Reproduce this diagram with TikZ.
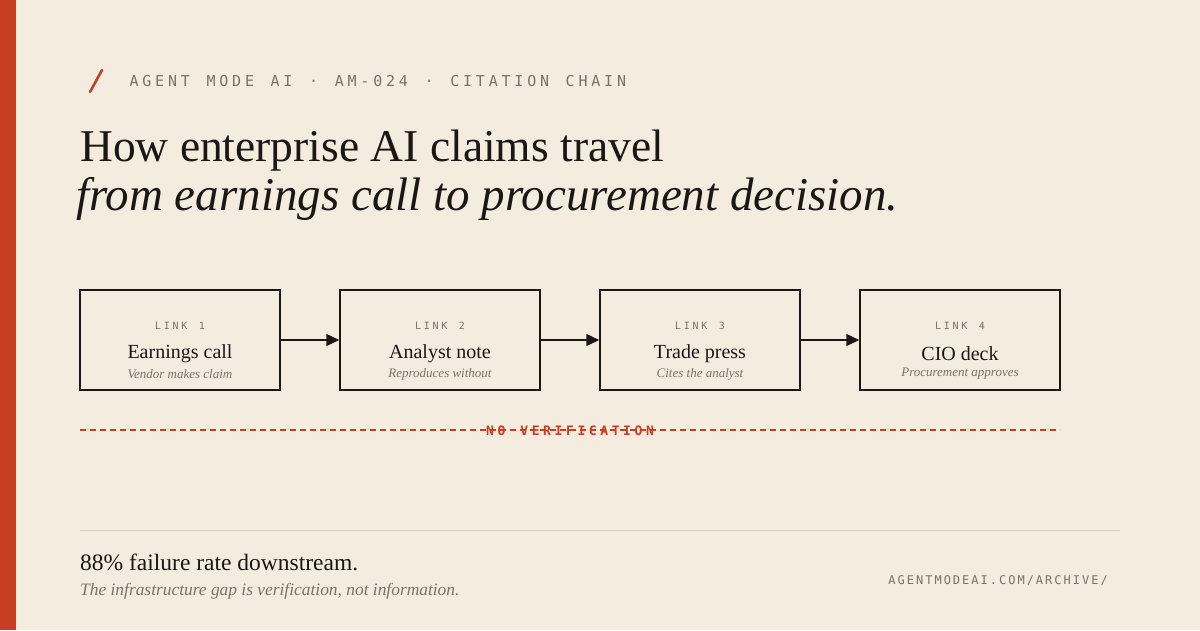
\documentclass[tikz,border=0pt]{standalone}
\usepackage{fontspec}
\setmainfont{Liberation Serif}
\newfontfamily\mono{DejaVu Sans Mono}
\usetikzlibrary{arrows.meta}
\newlength\lspamt
\newcommand\lsp{\kern\lspamt}
\definecolor{bg}{HTML}{F5ECE0}
\definecolor{rust}{HTML}{C83E22}
\definecolor{ink}{HTML}{1A1715}
\definecolor{gray1}{HTML}{7A716A}
\definecolor{rule}{HTML}{D9D0C5}
\begin{document}
\begin{tikzpicture}[x=1pt,y=-1pt,
  linkbox/.style={draw=ink,line width=1.5pt,minimum width=200pt,minimum height=100pt,inner sep=0pt},
  conn/.style={draw=ink,line width=1.5pt,-{Triangle[length=13pt,width=12pt]}},
  tag/.style={font=\mono\fontsize{10}{12}\selectfont\setlength\lspamt{2.7pt},text=gray1},
  ttl/.style={font=\fontsize{20}{22}\selectfont,text=ink},
  sub/.style={font=\itshape\fontsize{13}{15}\selectfont,text=gray1}]
\fill[bg] (0,0) rectangle (1200,630);
\useasboundingbox (0,0) rectangle (1200,630);
\fill[rust] (0,0) rectangle (16,630);
\draw[rust,line width=2.6pt,line cap=round] (90,92) -- (102,70);
\node[anchor=west,text=gray1,font=\mono\fontsize{15}{18}\selectfont\setlength\lspamt{3.8pt}] (hdr) at (126,81) {A\lsp G\lsp E\lsp N\lsp T\lsp\ \lsp M\lsp O\lsp D\lsp E\lsp\ \lsp A\lsp I\lsp\ \lsp ·\lsp\ \lsp A\lsp M\lsp -\lsp 0\lsp 2\lsp 4\lsp\ \lsp ·\lsp\ \lsp C\lsp I\lsp T\lsp A\lsp T\lsp I\lsp O\lsp N\lsp\ \lsp C\lsp H\lsp A\lsp I\lsp N};
\node[anchor=base west,inner sep=0pt,text=ink,font=\fontsize{45.5}{48}\selectfont] (t1) at (80,161) {How enterprise AI claims travel};
\node[anchor=base west,inner sep=0pt,text=ink,font=\itshape\fontsize{47}{50}\selectfont] (t2) at (76,210) {from earnings call to procurement decision.};
\foreach \i/\x/\a/\b in {1/180/Earnings call/Vendor makes claim,2/440/Analyst note/Reproduces without,3/700/Trade press/Cites the analyst,4/960/CIO deck/Procurement approves}{
  \node[linkbox] (b\i) at (\x,340) {};
  \node[tag] (l\i) at (\x,326) {L\lsp I\lsp N\lsp K\lsp\ \lsp\i};
  \node[ttl] (n\i) at (\x,354) {\a};
  \node[sub] (s\i) at (\x,374) {\b};
}
\draw[conn] (b1) -- (b2);
\draw[conn] (b2) -- (b3);
\draw[conn] (b3) -- (b4);
\coordinate (dl) at (80,430);
\coordinate (dr) at (1060,430);
\draw[rust,line width=1.3pt,dash pattern=on 6pt off 4pt] (dl) -- (dr);
\node[text=rust,font=\mono\bfseries\fontsize{13}{15}\selectfont\setlength\lspamt{3.6pt}] (nv) at (570,431) {N\lsp O\lsp\ \lsp V\lsp E\lsp R\lsp I\lsp F\lsp I\lsp C\lsp A\lsp T\lsp I\lsp O\lsp N};
\coordinate (rl) at (80,530);
\coordinate (rr) at (1120,530);
\draw[rule,line width=1pt] (rl) -- (rr);
\node[anchor=base west,inner sep=0pt,text=ink,font=\fontsize{23.5}{26}\selectfont] (f1) at (80,570) {88\% failure rate downstream.};
\node[anchor=base west,inner sep=0pt,text=gray1,font=\itshape\fontsize{17.4}{20}\selectfont] (f2) at (80,595) {The infrastructure gap is verification, not information.};
\node[anchor=base east,inner sep=0pt,text=gray1,font=\mono\fontsize{12}{14}\selectfont] (url) at (1108,584) {A\,G\,E\,N\,T\,M\,O\,D\,E\,A\,I\,.\,C\,O\,M\,/\,A\,R\,C\,H\,I\,V\,E\,/};
\end{tikzpicture}
\end{document}
